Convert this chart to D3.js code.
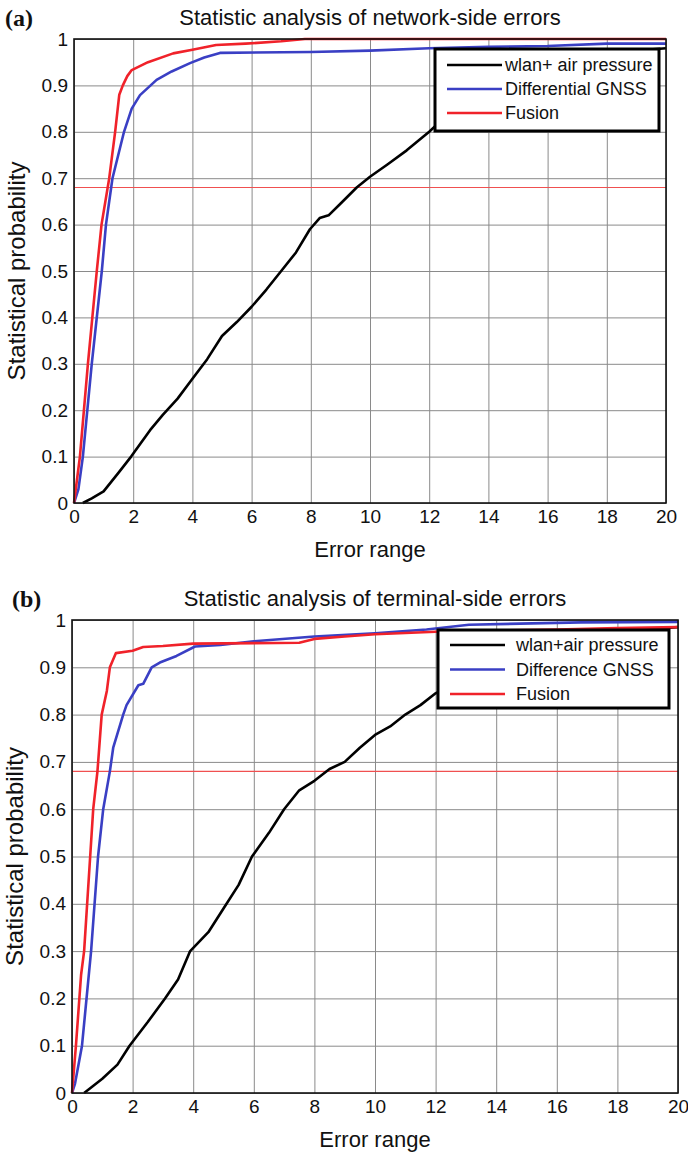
<!DOCTYPE html>
<html>
<head>
<meta charset="utf-8">
<script src="https://cdn.jsdelivr.net/npm/d3@7"></script>
<style>
  body { margin: 0; background: #fff; }
  text { font-family: "Liberation Sans", Arial, sans-serif; }
</style>
</head>
<body>
<svg id="chart" width="688" height="1152"></svg>
<script>
// ticks
const xTicks = [0, 2, 4, 6, 8, 10, 12, 14, 16, 18, 20];
const yTicks = [0, 0.1, 0.2, 0.3, 0.4, 0.5, 0.6, 0.7, 0.8, 0.9, 1];
const refLevel = 0.68;

// panel (a): network-side errors, [error, probability]
const wlanA = [[0.3,0],[0.6,0.01],[1,0.025],[1.5,0.065],[1.93,0.1],[2.57,0.157],[3,0.19],[3.5,0.225],[3.97,0.265],[4.5,0.31],[5,0.36],[5.5,0.39],[6,0.423],[6.5,0.46],[7,0.5],[7.5,0.54],[7.97,0.59],[8.3,0.614],[8.6,0.62],[9,0.645],[9.55,0.68],[10,0.703],[10.6,0.73],[11.24,0.76],[12,0.8],[12.5,0.83],[13,0.855],[14,0.89],[15,0.92],[16,0.94],[17,0.955],[18,0.965],[19,0.975],[20,0.98]];
const gnssA = [[0,0],[0.15,0.03],[0.3,0.1],[0.6,0.3],[0.94,0.5],[1.08,0.6],[1.3,0.7],[1.69,0.8],[1.95,0.85],[2.23,0.879],[2.79,0.912],[3.3,0.93],[3.92,0.948],[4.4,0.96],[4.93,0.97],[8,0.972],[10,0.975],[12,0.98],[14,0.983],[16,0.985],[18,0.99],[20,0.99]];
const fusionA = [[0,0],[0.2,0.1],[0.47,0.3],[0.62,0.4],[0.77,0.5],[0.93,0.6],[1.19,0.7],[1.39,0.8],[1.53,0.88],[1.65,0.9],[1.8,0.92],[1.95,0.933],[2.5,0.95],[3.35,0.969],[4,0.977],[4.8,0.987],[5.8,0.99],[7,0.995],[7.8,1],[20,1]];

// panel (b): terminal-side errors
const wlanB = [[0.4,0],[1,0.03],[1.5,0.06],[1.9,0.1],[2.5,0.15],[3.07,0.2],[3.5,0.24],[3.9,0.3],[4.5,0.34],[5,0.39],[5.5,0.44],[5.94,0.5],[6.5,0.55],[7,0.6],[7.5,0.64],[8,0.66],[8.5,0.685],[9,0.7],[9.5,0.73],[10,0.757],[10.5,0.775],[11,0.8],[11.5,0.82],[12,0.845],[13,0.88],[14,0.91],[15,0.935],[16,0.95],[17,0.965],[18,0.975],[19,0.98],[20,0.985]];
const gnssB = [[0,0],[0.1,0.02],[0.33,0.1],[0.63,0.3],[0.86,0.5],[1.03,0.6],[1.25,0.68],[1.36,0.73],[1.69,0.8],[1.8,0.82],[2.19,0.862],[2.35,0.865],[2.63,0.9],[2.9,0.91],[3.45,0.924],[4.06,0.944],[4.9,0.947],[6,0.955],[8,0.965],[10,0.972],[11.7,0.98],[13.1,0.99],[16.8,0.995],[20,0.996]];
const fusionB = [[0,0],[0.13,0.1],[0.3,0.25],[0.4,0.3],[0.6,0.5],[0.7,0.6],[0.84,0.68],[0.98,0.8],[1.15,0.85],[1.25,0.9],[1.45,0.93],[2,0.935],[2.35,0.943],[3,0.945],[4,0.95],[7.5,0.952],[8,0.96],[9,0.965],[10,0.97],[12,0.975],[14,0.978],[16,0.98],[18,0.983],[20,0.985]];

const legendA = ["wlan+ air pressure", "Differential GNSS", "Fusion"];
const legendB = ["wlan+air pressure", "Difference GNSS", "Fusion"];
const colors = ["#000000", "#3a3fc4", "#f0222a"];

const svg = d3.select("#chart");

function drawPanel(p) {
  const x = d3.scaleLinear().domain([0, 20]).range([p.left, p.right]);
  const y = d3.scaleLinear().domain([0, 1]).range([p.bottom, p.top]);
  const g = svg.append("g");

  // grid
  g.append("g")
    .attr("transform", `translate(0,${p.bottom})`)
    .call(d3.axisBottom(x).tickValues(xTicks).tickSize(-(p.bottom - p.top)).tickFormat(""))
    .call((s) => s.select(".domain").remove())
    .selectAll("line").attr("stroke", "#8a8a8a").attr("stroke-width", 1);
  g.append("g")
    .attr("transform", `translate(${p.left},0)`)
    .call(d3.axisLeft(y).tickValues(yTicks).tickSize(-(p.right - p.left)).tickFormat(""))
    .call((s) => s.select(".domain").remove())
    .selectAll("line").attr("stroke", "#8a8a8a").attr("stroke-width", 1);

  // tick labels
  const ax = g.append("g")
    .attr("transform", `translate(0,${p.bottom})`)
    .call(d3.axisBottom(x).tickValues(xTicks).tickSize(0).tickPadding(7));
  ax.select(".domain").remove();
  ax.selectAll("text").attr("font-size", 19).attr("fill", "#111")
    .style("font-family", '"Liberation Sans", Arial, sans-serif');
  const ay = g.append("g")
    .attr("transform", `translate(${p.left},0)`)
    .call(d3.axisLeft(y).tickValues(yTicks).tickSize(0).tickPadding(6).tickFormat((d) => d3.format("")(d)));
  ay.select(".domain").remove();
  ay.selectAll("text").attr("font-size", 19).attr("fill", "#111")
    .style("font-family", '"Liberation Sans", Arial, sans-serif');

  // 0.68 reference line
  g.append("line")
    .attr("x1", x(0)).attr("x2", x(20))
    .attr("y1", y(refLevel)).attr("y2", y(refLevel))
    .attr("stroke", "#f05050").attr("stroke-width", 1.2);

  // curves
  const line = d3.line().x((d) => x(d[0])).y((d) => y(d[1]));
  p.series.forEach((s, i) => {
    g.append("path")
      .datum(s)
      .attr("d", line)
      .attr("fill", "none")
      .attr("stroke", colors[i])
      .attr("stroke-width", 2.6)
      .attr("stroke-linejoin", "round");
  });

  // frame
  g.append("rect")
    .attr("x", p.left).attr("y", p.top)
    .attr("width", p.right - p.left).attr("height", p.bottom - p.top)
    .attr("fill", "none").attr("stroke", "#111").attr("stroke-width", 1.6);

  // legend
  const lg = g.append("g");
  lg.append("rect")
    .attr("x", p.leg.x).attr("y", p.leg.y)
    .attr("width", p.leg.w).attr("height", p.leg.h)
    .attr("fill", "#fff").attr("stroke", "#000").attr("stroke-width", 3);
  p.labels.forEach((t, i) => {
    const ry = p.leg.row0 + i * p.leg.dy;
    lg.append("line")
      .attr("x1", p.leg.x + 12).attr("x2", p.leg.x + 67)
      .attr("y1", ry).attr("y2", ry)
      .attr("stroke", colors[i]).attr("stroke-width", 2.6);
    lg.append("text")
      .attr("x", p.leg.tx).attr("y", ry + 6)
      .attr("font-size", 18).attr("fill", "#111")
      .text(t);
  });

  // titles
  g.append("text")
    .attr("x", (p.left + p.right) / 2).attr("y", p.top - 14)
    .attr("text-anchor", "middle").attr("font-size", 22).attr("fill", "#111")
    .text(p.title);
  g.append("text")
    .attr("x", p.tagX).attr("y", p.top - 13)
    .attr("font-size", 24).attr("font-weight", "bold").attr("fill", "#111")
    .style("font-family", '"Liberation Serif", "Times New Roman", serif')
    .text(p.tag);
  g.append("text")
    .attr("x", (p.left + p.right) / 2).attr("y", p.bottom + 54)
    .attr("text-anchor", "middle").attr("font-size", 22).attr("fill", "#111")
    .text("Error range");
  g.append("text")
    .attr("transform", `translate(${p.ylabX},${(p.top + p.bottom) / 2}) rotate(-90)`)
    .attr("text-anchor", "middle").attr("font-size", 24).attr("fill", "#111")
    .text("Statistical probability");
}

drawPanel({
  left: 74, right: 666, top: 39, bottom: 503,
  series: [wlanA, gnssA, fusionA],
  labels: legendA,
  leg: { x: 435, y: 49, w: 224, h: 82, row0: 65, dy: 24, tx: 505 },
  title: "Statistic analysis of network-side errors",
  tag: "(a)", tagX: 5, ylabX: 25
});

drawPanel({
  left: 72, right: 678, top: 620, bottom: 1093,
  series: [wlanB, gnssB, fusionB],
  labels: legendB,
  leg: { x: 438, y: 630, w: 231, h: 78, row0: 645, dy: 24.5, tx: 516 },
  title: "Statistic analysis of terminal-side errors",
  tag: "(b)", tagX: 12, ylabX: 23
});
</script>
</body>
</html>
